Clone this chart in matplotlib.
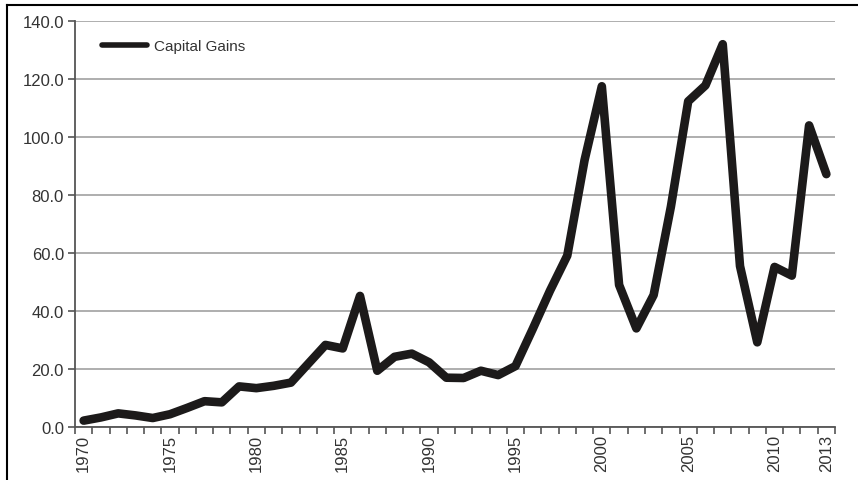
import matplotlib
matplotlib.use("Agg")
import matplotlib.pyplot as plt
from matplotlib.lines import Line2D

years = list(range(1970, 2014))
capital_gains = [2.2, 3.3, 4.7, 4.0, 3.1, 4.4, 6.6, 8.9, 8.5, 14.0,
                 13.4, 14.2, 15.3, 21.8, 28.3, 27.1, 45.2, 19.4, 24.2, 25.3,
                 22.3, 17.0, 16.9, 19.4, 17.9, 21.0, 33.8, 47.0, 59.1, 92.0,
                 117.5, 49.0, 34.0, 45.5, 76.0, 112.3, 117.8, 132.0, 55.5, 29.2,
                 55.2, 52.2, 104.0, 87.2]
series_label = "Capital Gains"
label_years = [1970, 1975, 1980, 1985, 1990, 1995, 2000, 2005, 2010, 2013]
y_ticks = [0, 20, 40, 60, 80, 100, 120, 140]

plt.rcParams['font.family'] = ['Liberation Sans', 'DejaVu Sans']

fig = plt.figure(figsize=(8.58, 4.81), dpi=100)
ax = fig.add_axes([75/858, 53/481, 760/858, 406/481])

ax.plot(years, capital_gains, color='#1c1a1a', lw=6.2, solid_joinstyle='round',
        solid_capstyle='round', label=series_label, zorder=3)

ax.set_xlim(years[0] - 0.5, years[-1] + 0.5)
ax.set_ylim(0, 140)

ax.set_yticks(y_ticks)
ax.set_yticklabels([f"{v:.1f}" for v in y_ticks], fontsize=12, color='#333333')
ax.yaxis.grid(True, color='#a8a8a8', lw=1.3)
ax.set_axisbelow(True)

# category boundaries as tick marks, labels centred in categories
ax.set_xticks([y - 0.5 for y in years] + [years[-1] + 0.5], minor=True)
ax.set_xticks(label_years)
ax.set_xticklabels([str(y) for y in label_years], rotation=90, fontsize=12,
                   color='#333333')
ax.tick_params(axis='x', which='major', length=0, pad=5)
ax.tick_params(axis='x', which='minor', length=5, width=1.2, color='#555555',
               direction='out')
ax.tick_params(axis='y', length=5, width=1.2, color='#555555', direction='out',
               pad=3)

for s in ['top', 'right']:
    ax.spines[s].set_visible(False)
for s in ['left', 'bottom']:
    ax.spines[s].set_color('#555555')
    ax.spines[s].set_linewidth(1.3)

leg = ax.legend(loc='upper left', bbox_to_anchor=(0.036, 0.955), frameon=False,
                fontsize=11, handlelength=2.9, handletextpad=0.45,
                borderpad=0, borderaxespad=0)
for t in leg.get_texts():
    t.set_color('#333333')
for ln in leg.get_lines():
    ln.set_linewidth(4)

# figure frame lines (left and top)
fig.add_artist(Line2D([7/858, 7/858], [0, 1 - 6/481], transform=fig.transFigure,
                      color='black', lw=1.5))
fig.add_artist(Line2D([7/858, 1], [1 - 6/481, 1 - 6/481], transform=fig.transFigure,
                      color='black', lw=1.5))

fig.savefig("out.png", dpi=100)
